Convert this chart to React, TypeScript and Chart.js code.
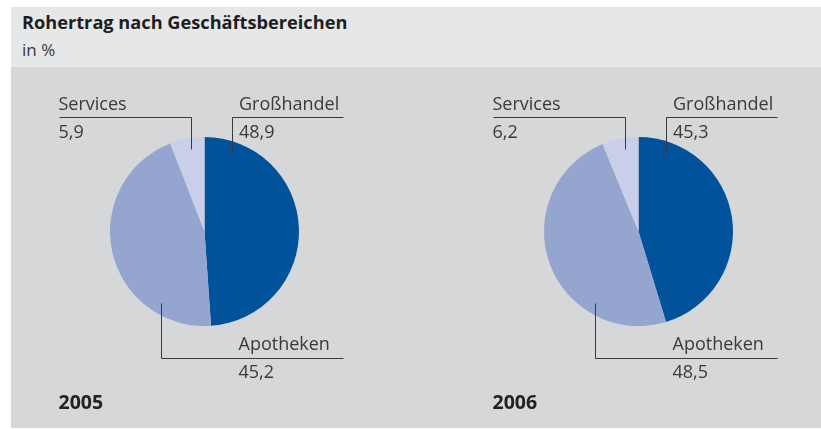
import React, { useEffect, useRef } from "react";
import { Chart, registerables } from "chart.js";

Chart.register(...registerables);

const title = "Rohertrag nach Geschäftsbereichen";
const subtitle = "in %";
const categories = ["Großhandel", "Apotheken", "Services"];
const years = ["2005", "2006"];
const values2005 = [48.9, 45.2, 5.9];
const values2006 = [45.3, 48.5, 6.2];
const seriesValues = [values2005, values2006];
const sliceColors = ["#00529b", "#94a6cf", "#c9cfe8"];

const FONT = "'Open Sans', 'Noto Sans', sans-serif";
const TEXT = "#3a3a3a";

const fmt = (v: number) => v.toFixed(1).replace(".", ",");

const labelPlugin = {
  id: "leaderLabels",
  afterDraw(chart: any, _args: any, opts: any) {
    const meta = chart.getDatasetMeta(0);
    const arc = meta.data[0];
    if (!arc) return;
    const cx = arc.x;
    const cy = arc.y;
    const ctx = chart.ctx;
    const vals = chart.data.datasets[0].data as number[];
    const labels = chart.data.labels as string[];
    ctx.save();
    ctx.strokeStyle = "#3a3a3a";
    ctx.lineWidth = 1;
    const line = (pts: number[][]) => {
      ctx.beginPath();
      pts.forEach((p, i) => {
        const x = Math.round(cx + p[0]) + 0.5;
        const y = Math.round(cy + p[1]) + 0.5;
        if (i === 0) ctx.moveTo(x, y);
        else ctx.lineTo(x, y);
      });
      ctx.stroke();
    };
    // Services (index 2)
    line([[-146, -115], [-14, -115], [-14, -83]]);
    // Großhandel (index 0)
    line([[27.5, -79], [27.5, -115], [138, -115]]);
    // Apotheken (index 1)
    line([[-44, 71], [-44, 126], [138, 126]]);

    ctx.fillStyle = TEXT;
    ctx.font = `400 18px ${FONT}`;
    ctx.textAlign = "left";
    ctx.textBaseline = "alphabetic";
    const txt = (s: string, x: number, y: number) => ctx.fillText(s, cx + x, cy + y);
    txt(labels[2], -146, -122);
    txt(fmt(vals[2]), -146, -94);
    txt(labels[0], 34.5, -122);
    txt(fmt(vals[0]), 34.5, -94);
    txt(labels[1], 34, 118);
    txt(fmt(vals[1]), 34, 146);

    ctx.font = `700 19.5px ${FONT}`;
    ctx.fillStyle = "#222";
    txt(opts.year, -146, 177);
    ctx.restore();
  },
};

function PieChart({ idx, padLeft }: { idx: number; padLeft: number }) {
  const ref = useRef<HTMLCanvasElement>(null);
  useEffect(() => {
    if (!ref.current) return;
    const w = 405;
    const h = 361;
    const d = 189;
    const top = 70;
    const chart = new Chart(ref.current, {
      type: "pie",
      data: {
        labels: categories,
        datasets: [
          {
            data: seriesValues[idx],
            backgroundColor: sliceColors,
            borderWidth: 0,
          },
        ],
      },
      options: {
        animation: false,
        responsive: false,
        maintainAspectRatio: false,
        layout: {
          padding: { left: padLeft, right: w - padLeft - d, top, bottom: h - top - d },
        },
        plugins: {
          legend: { display: false },
          tooltip: { enabled: false },
          title: { display: false },
          leaderLabels: { year: years[idx] },
        } as any,
      },
      plugins: [labelPlugin],
    });
    return () => chart.destroy();
  }, [idx, padLeft]);
  return <canvas ref={ref} width={405} height={361} style={{ display: "block", width: 405, height: 361 }} />;
}

export default function App() {
  return (
    <div style={{ position: "fixed", left: 0, top: 0, width: 821, height: 429, background: "#ffffff", overflow: "hidden" }}>
      <div style={{ position: "absolute", left: 11, top: 7, width: 810, height: 421, background: "#d6d7d9" }} />
      <div style={{ position: "absolute", left: 11, top: 7, width: 810, height: 60, background: "#e6e7e9" }}>
        <div style={{ position: "absolute", left: 11, top: 3, font: `700 18.2px ${FONT}`, color: "#1e1e1e", whiteSpace: "nowrap" }}>{title}</div>
        <div style={{ position: "absolute", left: 11, top: 31, font: `400 17px ${FONT}`, color: TEXT, whiteSpace: "nowrap" }}>{subtitle}</div>
      </div>
      <div style={{ position: "absolute", left: 11, top: 67 }}>
        <PieChart idx={0} padLeft={99} />
      </div>
      <div style={{ position: "absolute", left: 416, top: 67 }}>
        <PieChart idx={1} padLeft={128} />
      </div>
    </div>
  );
}
